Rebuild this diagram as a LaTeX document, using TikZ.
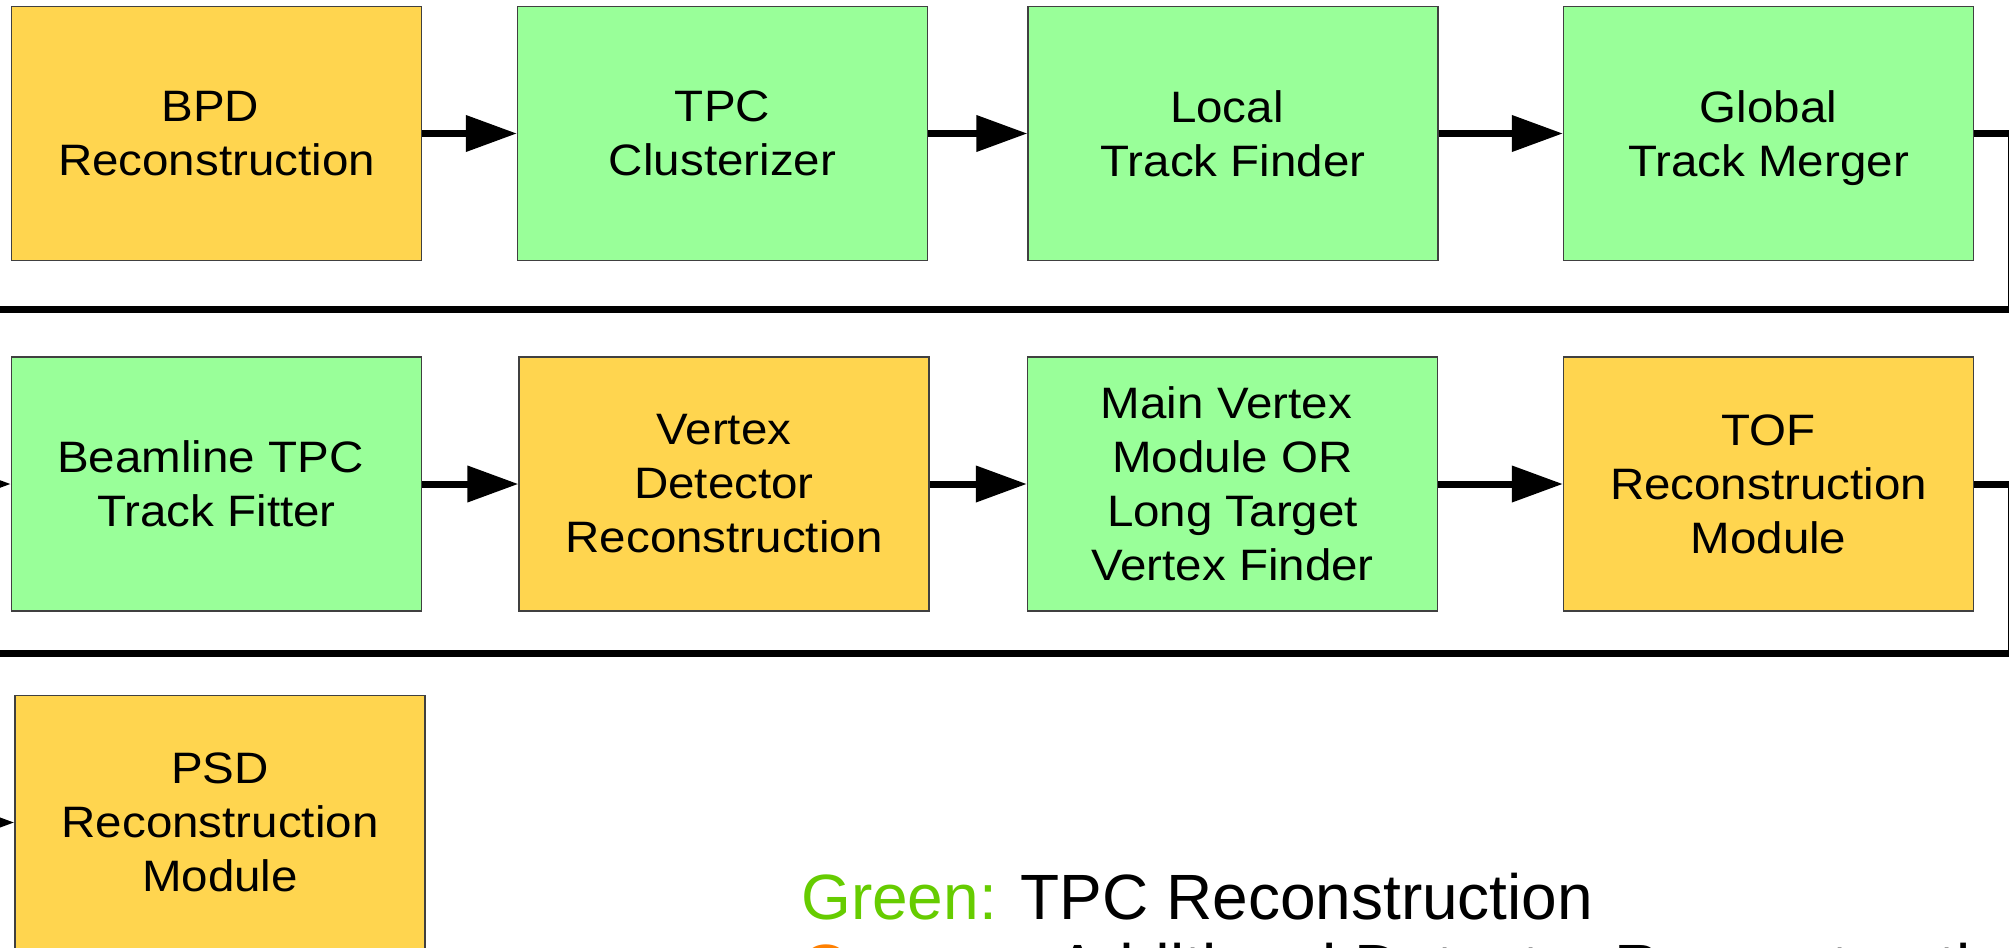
\documentclass[tikz,border=0pt]{standalone}
\usepackage{fontspec}
\setmainfont{Liberation Sans}
\newfontfamily\boxfont[FakeStretch=1.08]{Liberation Sans}
\usetikzlibrary{arrows.meta}
\definecolor{boxgreen}{HTML}{99FF99}
\definecolor{boxyellow}{HTML}{FFD54F}
\definecolor{legendgreen}{HTML}{66CC00}
\definecolor{legendorange}{HTML}{FF8000}
\tikzset{
  procbox/.style={draw=black!75, line width=1.2pt, minimum width=410pt, minimum height=254pt,
    inner sep=0pt, align=center, font=\boxfont\fontsize{44pt}{54pt}\selectfont},
  tpcbox/.style={procbox, fill=boxgreen},
  detbox/.style={procbox, fill=boxyellow},
  conn/.style={line width=7pt, draw=black},
  arr/.style={conn, -{Triangle[length=51pt,width=35pt]}},
  legendtext/.style={anchor=base west, inner sep=0pt, font=\fontsize{64pt}{74pt}\selectfont}
}
\begin{document}
\begin{tikzpicture}[x=1pt,y=-1pt]
\useasboundingbox (0,0) rectangle (2009,947);
\fill[white] (0,0) rectangle (2009,947);
\begin{scope}
\clip (0,0) rectangle (2009,947);
% row 1
\node[detbox] (bpd) at (216.5,133.5) {BPD\hspace*{0.28em}\\Reconstruction};
\node[tpcbox] (tpc) at (722.5,133.5) {TPC\\Clusterizer};
\node[tpcbox] (local) at (1233,133.5) {Local\hspace*{0.28em}\\Track Finder};
\node[tpcbox] (global) at (1768.5,133.5) {Global\\\raisebox{0pt}[\height][0pt]{Track Merger}};
% row 2
\node[tpcbox] (beam) at (216.5,484) {Beamline TPC\hspace*{0.28em}\\Track Fitter};
\node[detbox] (vtx) at (724,484) {Vertex\\Detector\\Reconstruction};
\node[tpcbox] (main) at (1232.5,484) {Main Vertex\hspace*{0.28em}\\Module OR\hspace*{0.28em}\\Long Target\\Vertex Finder};
\node[detbox] (tof) at (1768.5,484) {TOF\\Reconstruction\\Module};
% row 3
\node[detbox] (psd) at (220,822.5) {PSD\\Reconstruction\\Module};
% connectors
\draw[arr] (bpd.east) -- (tpc.west);
\draw[arr] (tpc.east) -- (local.west);
\draw[arr] (local.east) -- (global.west);
\draw[arr] (beam.east) -- (vtx.west);
\draw[arr] (vtx.east) -- (main.west);
\draw[arr] (main.east) -- (tof.west);
\coordinate (r1) at (2011.4,309.5);
\coordinate (l1) at (-80,309.5);
\draw[arr] (global.east) -| (r1) -- (l1) |- (beam.west);
\coordinate (r2) at (2011.4,653);
\coordinate (l2) at (-80,653);
\draw[arr] (tof.east) -| (r2) -- (l2) |- (psd.west);
% legend
\node[legendtext] (leg1) at (801,919) {\textcolor{legendgreen}{Green:} TPC Reconstruction};
\node[legendtext] (leg2) at (801,989) {\textcolor{legendorange}{Orange:} Additional Detector Reconstruction};
\end{scope}
\end{tikzpicture}
\end{document}
